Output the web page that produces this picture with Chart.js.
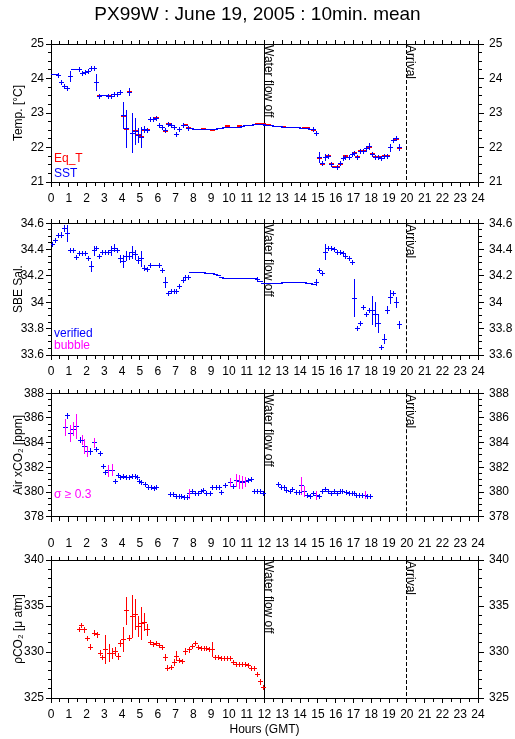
<!DOCTYPE html>
<html><head><meta charset="utf-8">
<script src="https://cdn.jsdelivr.net/npm/chart.js@4.4.1/dist/chart.umd.min.js"></script>
<style>
html,body{margin:0;padding:0;background:#fff;}
body{position:relative;width:515px;height:739px;overflow:hidden;}
canvas{position:absolute;left:0;}
</style></head><body>
<canvas id="p1" width="515" height="205" style="top:0px"></canvas>
<canvas id="p2" width="515" height="170" style="top:205px"></canvas>
<canvas id="p3" width="515" height="160" style="top:375px"></canvas>
<canvas id="p4" width="515" height="204" style="top:535px"></canvas>
<script>
// ---------------- data ----------------
const hourTicks = [0,1,2,3,4,5,6,7,8,9,10,11,12,13,14,15,16,17,18,19,20,21,22,23,24];
const tempTicks = [21,22,23,24,25];
const salTicks = [33.6,33.8,34,34.2,34.4,34.6];
const xco2Ticks = [378,380,382,384,386,388];
const pco2Ticks = [325,330,335,340];
const eventHours = [12, 20];
const eventLabels = ['Water flow off', 'Arrival'];

// 10-min thermosalinograph times (hours GMT)
const tsgHours = [0.08,0.25,0.42,0.58,0.75,0.92,1.08,1.25,1.42,1.58,1.75,1.92,2.08,2.25,2.42,2.58,2.75,2.92,
 3.08,3.25,3.42,3.58,3.75,3.92,4.08,4.25,4.42,4.58,4.75,4.92,5.08,5.25,5.42,5.58,5.75,5.92,
 6.08,6.25,6.42,6.58,6.75,6.92,7.08,7.25,7.42,7.58,7.75,7.92,8.08,8.25,8.42,8.58,8.75,8.92,
 9.08,9.25,9.42,9.58,9.75,9.92,10.08,10.25,10.42,10.58,10.75,10.92,11.08,11.25,11.42,11.58,11.75,11.92,
 12.08,12.25,12.42,12.58,12.75,12.92,13.08,13.25,13.42,13.58,13.75,13.92,14.08,14.25,14.42,14.58,14.75,14.92,
 15.08,15.25,15.42,15.58,15.75,15.92,16.08,16.25,16.42,16.58,16.75,16.92,17.08,17.25,17.42,17.58,17.75,17.92,
 18.08,18.25,18.42,18.58,18.75,18.92,19.08,19.25,19.42,19.58];
const sstValues = [24.13,24.13,24.08,23.87,23.77,23.70, 24.06,24.26,24.26,24.26,24.14,24.16,
 24.20,24.29,24.29,23.88,23.48,23.51, 23.51,23.48,23.48,23.53,23.55,23.60,
 22.92,22.55,23.60,22.42,22.47,22.35, 22.29,22.52,22.50,22.81,22.80,22.85,
 22.64,22.57,22.50,22.68,22.63,22.58, 22.39,22.52,22.63,22.63,22.56,22.56,
 22.53,22.53,22.53,22.53,22.53,22.53, 22.51,22.51,22.55,22.55,22.58,22.58,
 22.58,22.58,22.58,22.58,22.60,22.63, 22.63,22.63,22.66,22.66,22.66,22.66,
 22.63,22.63,22.63,22.62,22.61,22.61, 22.58,22.58,22.58,22.58,22.58,22.58,
 22.56,22.56,22.56,22.52,22.52,22.40, 21.70,21.53,21.71,21.74,21.51,21.43,
 21.43,21.53,21.67,21.70,21.71,21.79, 21.82,21.72,21.89,21.89,21.96,22.03,
 21.81,21.72,21.72,21.68,21.74,21.74, 21.99,22.21,22.25,22.00];
const sstErr = [0,0,0.03,0.07,0.04,0.04, 0.15,0,0,0.05,0.04,0.03,
 0.02,0.03,0.03,0.24,0.03,0, 0,0.04,0.03,0.08,0.04,0.02,
 0.39,0.55,0.12,0.59,0.39,0.22, 0.29,0.10,0.03,0.06,0.03,0.03,
 0.08,0.04,0.05,0.04,0.03,0.06, 0.05,0.04,0.02,0,0.02,0,
 0,0,0,0,0,0, 0,0,0,0,0,0, 0,0,0,0,0,0, 0,0,0,0,0,0,
 0,0,0,0,0,0, 0,0,0,0,0,0, 0,0,0,0,0.02,0.08,
 0.16,0.02,0.10,0.03,0.02,0, 0.05,0.02,0.02,0.05,0.04,0.04,
 0.06,0.04,0.02,0.02,0.08,0.10, 0.03,0.02,0.02,0.03,0.02,0.02, 0.12,0.04,0.02,0.10];

const eqtHours = [2.75,3.25,4.08,4.25,4.42,4.75,4.92,5.08,5.25,5.42,5.92,6.42,6.58,7.58,7.75,8.58,9.08,9.92,10.58,
 11.58,11.75,11.92,12.08,12.25,13.08,14.25,14.42,14.75,15.08,15.25,15.58,15.75,15.92,16.08,16.25,16.58,
 17.08,17.25,17.42,17.58,17.92,18.08,18.25,18.42,18.75,18.92,19.42,19.58];
const eqtValues = [23.48,23.48,22.92,22.55,23.60,22.47,22.35,22.29,22.52,22.50,22.85,22.47,22.67,22.64,22.56,22.53,22.50,22.62,22.61,
 22.68,22.68,22.68,22.66,22.65,22.59,22.56,22.56,22.50,21.70,21.53,21.74,21.51,21.44,21.44,21.53,21.75,
 21.83,21.72,21.89,21.89,22.02,21.81,21.72,21.72,21.74,21.75,22.25,22.00];

const salValues = [34.44,34.47,34.51,34.51,34.56,34.52, 34.39,34.39,34.34,34.37,34.37,34.37,
 34.33,34.27,34.39,34.41,34.35,34.38, 34.38,34.38,34.39,34.41,34.39,34.33,
 34.31,34.35,34.35,34.38,34.36,34.32, 34.33,34.26,34.25,34.28,34.28,34.28,
 34.28,34.24,34.15,34.07,34.085,34.08, 34.085,34.12,34.165,34.19,34.19,34.225,
 34.225,34.225,34.225,34.225,34.222,34.22, 34.22,34.21,34.20,34.19,34.18,34.18,
 34.18,34.18,34.18,34.18,34.18,34.18, 34.18,34.18,34.18,34.17,34.155,34.145,
 34.14,34.14,34.14,34.14,34.14,34.14, 34.15,34.15,34.15,34.15,34.15,34.15,
 34.15,34.15,34.145,34.14,34.135,34.15, 34.24,34.22,34.38,34.41,34.41,34.40,
 34.38,34.375,34.37,34.35,34.33,34.30, 34.03,33.80,33.84,33.96,33.91,33.94,
 33.935,33.91,33.84,33.66,33.72,33.94, 34.04,34.07,34.00,33.83];
const salErr = [0.01,0.02,0.015,0.02,0.03,0.065, 0.015,0.015,0.02,0.01,0.01,0.02,
 0.02,0.04,0.04,0.02,0.015,0.01, 0.01,0.02,0.04,0.03,0.01,0.03,
 0.05,0.04,0.03,0.05,0.04,0.03, 0.06,0.02,0.01,0.005,0,0,
 0.01,0.01,0.045,0.01,0.005,0.01, 0.01,0.02,0.01,0.01,0.01,0,
 0,0,0,0,0,0, 0,0,0,0,0,0, 0,0,0,0,0,0, 0,0,0,0.005,0,0,
 0,0,0,0,0,0, 0,0,0,0,0,0, 0,0,0,0,0,0.03,
 0.01,0.01,0.06,0.005,0.005,0.01, 0.005,0.005,0.005,0.01,0.01,0.02,
 0.145,0.02,0.02,0.02,0.02,0.01, 0.11,0.095,0.07,0.01,0.04,0.03, 0.05,0.01,0.04,0.03];

const xco2Hours = [0.94,1.63,2.23,2.57,2.76,2.94,3.09,3.6,3.79,3.92,4.1,4.26,4.44,4.58,4.73,4.85,4.97,
 5.1,5.29,5.48,5.63,5.79,5.94,6.69,6.86,7.07,7.22,7.35,7.5,7.65,7.97,8.13,8.29,8.45,8.57,8.76,8.94,
 9.09,9.28,9.45,9.6,9.79,10.26,11.1,11.25,11.42,11.58,11.75,11.92,12.79,12.94,13.1,13.25,13.44,13.6,13.78,13.95,
 14.42,14.57,14.75,15.07,15.26,15.45,15.6,15.75,15.91,16.1,16.25,16.4,16.59,16.76,16.92,17.05,17.19,17.35,17.5,17.79,17.94];
const xco2Values = [386.17,384.19,383.28,383.47,383.11,382.07,381.61,380.82,381.35,381.18,381.3,381.18,381.18,381.23,381.23,381.18,380.82,
 380.75,380.58,380.41,380.41,380.27,380.34,379.78,379.78,379.66,379.66,379.64,379.54,379.58,380.05,379.92,379.86,380.02,380.14,379.86,379.86,
 380.34,380.34,380.38,379.98,380.53,380.45,380.94,381.04,380.02,380.02,380.02,379.9,380.58,380.39,380.39,380.1,380.02,380.22,379.98,379.98,
 379.73,379.61,379.9,379.61,380.05,380.22,380.05,379.9,380.02,379.86,380.05,380.05,379.98,379.86,379.86,379.86,379.73,379.73,379.73,379.66,379.68];
const xco2Err = [0.25,0.25,0.25,0.15,0.2,0.1,0.1,0.15,0.1,0.05,0.1,0.05,0.05,0.05,0.05,0.03,0.15,
 0.08,0.05,0.03,0.03,0.05,0.03,0.1,0.12,0.05,0.05,0.03,0.08,0.1,0.12,0.1,0.12,0.08,0.15,0.1,0.1,
 0.2,0.2,0.15,0.15,0.15,0.12,0.2,0.2,0.05,0.05,0.05,0.03,0.15,0.1,0.1,0.05,0.08,0.1,0.05,0.05,
 0.15,0.15,0.15,0.1,0.05,0.1,0.05,0.05,0.12,0.05,0.15,0.15,0.05,0.03,0.03,0.03,0.03,0.03,0.03,0.05,0.08];
// sigma >= 0.3
const xco2FlagHours = [0.79,1.1,1.29,1.44,1.78,1.91,2.06,2.42,3.22,3.47,7.78,10.07,10.44,10.59,10.76,10.95,14.1,14.25,14.9,17.66];
const xco2FlagValues = [385.23,384.72,385.08,385.33,384.19,383.71,383.28,384.0,381.71,381.78,379.85,380.75,380.94,380.82,380.77,380.82,380.5,380.05,379.73,379.75];
const xco2FlagErr = [0.66,0.69,0.57,1.0,0.4,0.6,0.45,0.4,0.5,0.5,0.4,0.35,0.55,0.55,0.5,0.4,0.72,0.42,0.35,0.35];

const pco2Hours = [1.59,1.73,1.91,2.06,2.23,2.42,2.61,2.76,2.91,3.09,3.28,3.47,3.64,3.79,3.92,4.1,4.26,4.44,4.59,4.76,4.91,
 5.1,5.25,5.44,5.61,5.76,5.94,6.09,6.26,6.41,6.56,6.75,6.92,7.07,7.22,7.41,7.58,7.76,7.95,8.1,8.29,8.44,8.6,8.76,8.91,
 9.09,9.25,9.42,9.58,9.75,9.92,10.08,10.25,10.42,10.58,10.75,10.92,11.08,11.25,11.42,11.6,11.76,11.94];
const pco2Values = [332.48,332.88,332.41,331.51,330.53,332.05,331.87,329.88,329.45,330.24,329.88,329.88,330.06,329.52,330.9,
 331.33,334.47,331.51,333.86,334.04,332.77,333.13,333.24,332.41,331.04,330.78,330.96,330.68,330.53,329.41,328.25,328.33,328.87,
 329.52,329.09,328.98,330.06,330.24,330.6,330.9,330.5,330.42,330.42,330.35,330.24,330.24,329.45,329.45,329.3,329.27,329.27,
 329.27,328.9,328.62,328.62,328.62,328.6,328.55,328.18,328.2,327.53,326.74,326.09];
const pco2Err = [0.25,0.25,0.35,0.25,0.3,0.3,0.3,0.3,0.1,1.57,0.95,0.6,0.5,0.4,0.4,1.35,1.55,0.3,2.3,1.7,1.1,
 1.8,1.0,0.65,0.2,0.1,0.15,0.1,0.15,0.4,0.35,0.2,0.4,0.55,0.3,0.3,0.35,0.3,0.15,0.15,0.15,0.1,0.1,0.1,0.15,
 0.8,0.08,0.05,0.05,0.05,0.05,0.05,0.08,0.05,0.05,0.05,0.05,0.05,0.05,0.05,0.3,0.3,0.1];

// ---------------- style ----------------
const FONT = "'Liberation Sans', Arial, Helvetica, sans-serif";
const BLUE = '#0000ff', RED = '#ff0000', MAG = '#ff00ff';
const EVENT_DASH = [[], [4, 2]];
Chart.defaults.font.family = FONT;
Chart.defaults.font.size = 12;
Chart.defaults.color = '#000';

function makeDeco(o) {
  return {
    id: 'deco',
    beforeDatasetsDraw(chart) {
      const {ctx, chartArea: a, scales: {x}} = chart;
      ctx.save();
      ctx.strokeStyle = '#000'; ctx.lineWidth = 1;
      eventHours.forEach((h, i) => {
        const px = Math.floor(x.getPixelForValue(h)) + 0.5;
        ctx.setLineDash(EVENT_DASH[i]);
        ctx.beginPath(); ctx.moveTo(px, a.top); ctx.lineTo(px, a.bottom); ctx.stroke();
      });
      ctx.setLineDash([]);
      ctx.fillStyle = '#000'; ctx.font = '12px ' + FONT;
      ctx.textAlign = 'left'; ctx.textBaseline = 'alphabetic';
      eventHours.forEach((h, i) => {
        const px = Math.floor(x.getPixelForValue(h)) + 1;
        ctx.save(); ctx.translate(px, a.top + 1); ctx.rotate(Math.PI / 2);
        ctx.fillText(eventLabels[i], 0, 0); ctx.restore();
      });
      ctx.restore();
      chart.data.datasets.forEach((ds, i) => {
        chart.getDatasetMeta(i).data.forEach(el => {
          el.x = Math.floor(el.x) + 0.5;
          el.y = ds.snap === 2 ? Math.round(el.y) : Math.floor(el.y) + 0.5;
        });
      });
    },
    afterDatasetDraw(chart, args) {
      const ds = chart.data.datasets[args.index];
      const {ctx, chartArea: a, scales: {y}} = chart;
      ctx.save();
      ctx.beginPath(); ctx.rect(a.left, a.top, a.right - a.left, a.bottom - a.top); ctx.clip();
      ctx.strokeStyle = ds.errColor; ctx.lineWidth = 1; ctx.beginPath();
      args.meta.data.forEach((el, j) => {
        const p = ds.data[j];
        if (!p.e) return;
        const row = Math.floor(el.y);
        const t = Math.min(Math.round(y.getPixelForValue(p.y + p.e)), row - 2);
        const b = Math.max(Math.round(y.getPixelForValue(p.y - p.e)), row + 3);
        ctx.moveTo(el.x, t); ctx.lineTo(el.x, b);
      });
      ctx.stroke(); ctx.restore();
    },
    afterDraw(chart) {
      const {ctx, chartArea: a, scales: {x, y}} = chart;
      ctx.save(); ctx.strokeStyle = '#000'; ctx.lineWidth = 1; ctx.beginPath();
      const top = Math.round(a.top), bot = Math.round(a.bottom), lft = Math.round(a.left), rgt = Math.round(a.right);
      for (let k = 0; k <= 48; k++) {
        const px = Math.floor(x.getPixelForValue(k / 2)) + 0.5;
        const L = k % 2 === 0 ? 4 : 3;
        ctx.moveTo(px, bot); ctx.lineTo(px, bot + 1 + L);
        ctx.moveTo(px, top + 1); ctx.lineTo(px, top - L);
      }
      const n = Math.round((o.yMax - o.yMin) / o.yMinor);
      for (let k = 0; k <= n; k++) {
        const v = o.yMin + k * o.yMinor;
        const py = Math.floor(y.getPixelForValue(v)) + 0.5;
        const major = o.yTicks.some(t => Math.abs(t - v) < 1e-6);
        const L = major ? 5 : 3;
        ctx.moveTo(lft + 1, py); ctx.lineTo(lft - L, py);
        ctx.moveTo(rgt, py); ctx.lineTo(rgt + 1 + L, py);
      }
      ctx.stroke();
      ctx.font = '12px ' + FONT; ctx.textAlign = 'left'; ctx.textBaseline = 'alphabetic';
      (o.notes || []).forEach(nt => { ctx.fillStyle = nt.color; ctx.fillText(nt.text, lft + 3, bot - nt.rise); });
      ctx.restore();
    }
  };
}

function xScale(pos, labels, h, title) {
  return {
    type: 'linear', axis: 'x', position: pos, min: 0, max: 24, display: true,
    afterBuildTicks: s => { s.ticks = hourTicks.map(v => ({value: v})); },
    ticks: {display: labels, font: {size: 12}, color: '#000', padding: 9, maxRotation: 0, minRotation: 0, autoSkip: false},
    grid: {display: false, drawTicks: false},
    border: {display: true, color: '#000', width: 1},
    title: title ? {display: true, text: title, font: {size: 12}, color: '#000', padding: {top: 0, bottom: 2}} : {display: false},
    afterFit: s => { s.height = h; }
  };
}
function yScale(pos, o) {
  return {
    type: 'linear', axis: 'y', position: pos, min: o.yMin, max: o.yMax, display: true,
    afterBuildTicks: s => { s.ticks = o.yTicks.map(v => ({value: v})); },
    ticks: {font: {size: 12}, color: '#000', padding: pos === 'left' ? 7 : 11,
            callback: v => String(parseFloat(Number(v).toFixed(2)))},
    grid: {display: false, drawTicks: false},
    border: {display: true, color: '#000', width: 1},
    title: pos === 'left' ? {display: true, text: o.yTitle, font: {size: 12}, color: '#000', padding: {top: 11, bottom: 0}} : {display: false},
    afterFit: s => { s.width = pos === 'left' ? 51 : 37; }
  };
}

function panel(id, o) {
  return new Chart(document.getElementById(id), {
    type: 'scatter',
    data: {datasets: o.series.map(s => ({
      label: s.label,
      data: s.hours.map((h, i) => ({x: h, y: s.values[i], e: s.errors ? s.errors[i] : 0})),
      showLine: false, pointStyle: 'line', pointRadius: 2.5, pointHoverRadius: 2.5,
      pointBorderWidth: s.width, borderWidth: s.width, pointBorderColor: s.color, borderColor: s.color,
      pointBackgroundColor: s.color, backgroundColor: s.color,
      errColor: s.errColor || s.color, snap: s.width
    }))},
    plugins: [makeDeco(o)],
    options: {
      responsive: false, animation: false, devicePixelRatio: 1, events: [],
      layout: {padding: 0},
      plugins: {
        legend: {display: false}, tooltip: {enabled: false},
        title: o.title ? {display: true, text: o.title, font: {size: 19, weight: 'normal'}, color: '#000', padding: {top: 3, bottom: 4.2}} : {display: false}
      },
      scales: {
        x: xScale('bottom', o.bottomLabels, o.bottomH, o.xTitle),
        x2: xScale('top', o.topLabels, o.topH),
        y: yScale('left', o),
        y2: yScale('right', o)
      }
    }
  });
}

panel('p1', {
  title: 'PX99W : June 19, 2005 : 10min. mean',
  yTitle: 'Temp. [°C]', yMin: 21, yMax: 25, yTicks: tempTicks, yMinor: 0.25,
  topH: 14, bottomH: 23, topLabels: false, bottomLabels: true,
  series: [
    {label: 'SST', hours: tsgHours, values: sstValues, errors: sstErr, color: BLUE, width: 1},
    {label: 'Eq_T', hours: eqtHours, values: eqtValues, color: RED, width: 2}
  ],
  notes: [{text: 'Eq_T', color: RED, rise: 20}, {text: 'SST', color: BLUE, rise: 5}]
});
panel('p2', {
  yTitle: 'SBE Sal.', yMin: 33.6, yMax: 34.6, yTicks: salTicks, yMinor: 0.05,
  topH: 12, bottomH: 20, topLabels: false, bottomLabels: true,
  series: [{label: 'verified', hours: tsgHours, values: salValues, errors: salErr, color: BLUE, width: 1}],
  notes: [{text: 'verified', color: BLUE, rise: 18}, {text: 'bubble', color: MAG, rise: 6}]
});
panel('p3', {
  yTitle: 'Air xCO₂ [ppm]', yMin: 378, yMax: 388, yTicks: xco2Ticks, yMinor: 0.5,
  topH: 14, bottomH: 8, topLabels: false, bottomLabels: false,
  series: [
    {label: 'verified', hours: xco2Hours, values: xco2Values, errors: xco2Err, color: BLUE, width: 1},
    {label: 'σ ≥ 0.3', hours: xco2FlagHours, values: xco2FlagValues, errors: xco2FlagErr, color: BLUE, errColor: MAG, width: 1}
  ],
  notes: [{text: 'σ ≥ 0.3', color: MAG, rise: 19}]
});
panel('p4', {
  yTitle: 'ρCO₂ [μ atm]', yMin: 325, yMax: 340, yTicks: pco2Ticks, yMinor: 1,
  topH: 25, bottomH: 41, topLabels: true, bottomLabels: true, xTitle: 'Hours (GMT)',
  series: [{label: 'pCO2', hours: pco2Hours, values: pco2Values, errors: pco2Err, color: RED, width: 1}],
  notes: []
});
</script>
</body></html>
